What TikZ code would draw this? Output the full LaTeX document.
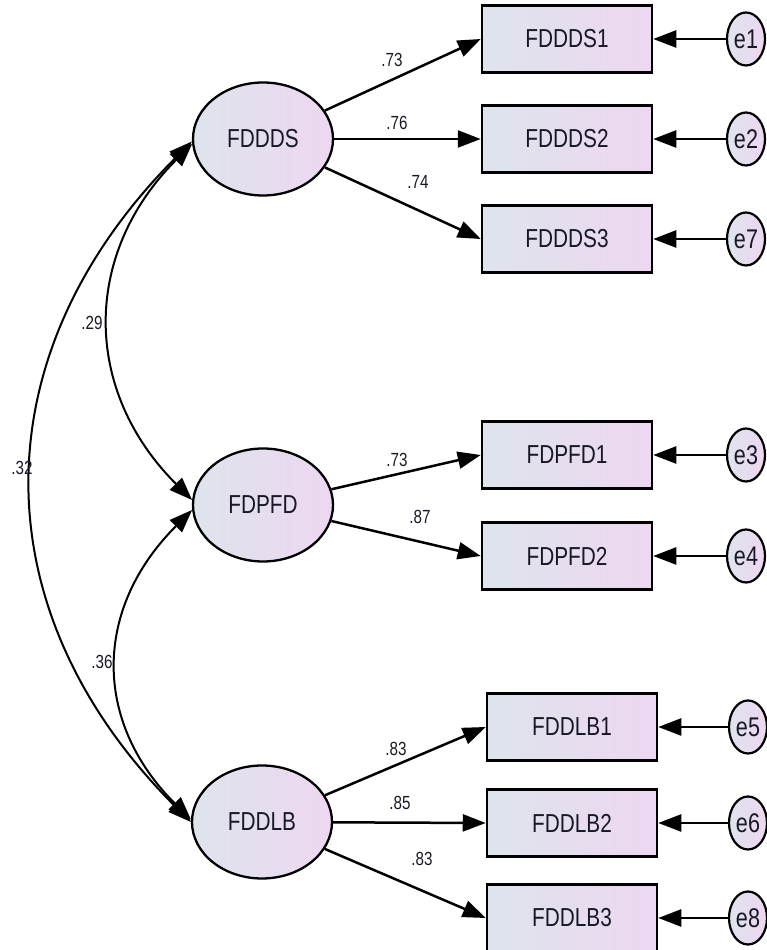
\documentclass[tikz,border=0pt]{standalone}
\usepackage{fontspec}
\setmainfont{Liberation Sans}[FakeStretch=0.8]
\usetikzlibrary{arrows.meta,shapes.geometric}
\definecolor{shadeL}{RGB}{222,228,236}
\definecolor{shadeR}{RGB}{237,215,241}
\definecolor{ink}{RGB}{24,24,40}
\tikzset{
  lat/.style={draw,ellipse,minimum width=140pt,minimum height=113pt,inner sep=0pt,line width=2.3pt,left color=shadeL,right color=shadeR,text=ink,font=\fontsize{26}{28}\selectfont},
  obs/.style={draw,rectangle,minimum width=170pt,minimum height=67pt,inner sep=0pt,line width=2.5pt,left color=shadeL,right color=shadeR,text=ink,font=\fontsize{26}{28}\selectfont},
  err/.style={draw,ellipse,minimum width=38pt,minimum height=53pt,inner sep=0pt,line width=2.2pt,left color=shadeL,right color=shadeR,text=ink,font=\fontsize{27}{29}\selectfont},
  load/.style={-{Triangle[length=23pt,width=17pt]},line width=2.5pt},
  cov/.style={{Triangle[length=23pt,width=17pt]}-{Triangle[length=23pt,width=17pt]},line width=2pt},
  wt/.style={inner sep=1pt,text=ink,font=\fontsize{19}{21}\selectfont},
}
\begin{document}
\begin{tikzpicture}[x=1pt,y=1pt]
  \useasboundingbox (0,0) rectangle (767,950);

  % latent factors
  \node[lat] (FDDDS) at (263,811) {FDDDS};
  \node[lat] (FDPFD) at (263,445) {FDPFD};
  \node[lat] (FDDLB) at (262,128) {FDDLB};

  % FDDDS block
  \node[obs] (FDDDS1) at (567,911) {FDDDS1};
  \node[obs] (FDDDS2) at (567,811) {FDDDS2};
  \node[obs] (FDDDS3) at (567,711) {FDDDS3};
  \node[err] (e1) at (746,911) {e1};
  \node[err] (e2) at (746,811) {e2};
  \node[err] (e7) at (746,711) {e7};

  % FDPFD block
  \node[obs] (FDPFD1) at (567,495) {FDPFD1};
  \node[obs] (FDPFD2) at (567,394) {FDPFD2};
  \node[err] (e3) at (746,495) {e3};
  \node[err] (e4) at (746,394) {e4};

  % FDDLB block
  \node[obs] (FDDLB1) at (572,223) {FDDLB1};
  \node[obs] (FDDLB2) at (572,127) {FDDLB2};
  \node[obs] (FDDLB3) at (572,32)  {FDDLB3};
  \node[err] (e5) at (748,223) {e5};
  \node[err] (e6) at (748,127) {e6};
  \node[err] (e8) at (748,32)  {e8};

  % loadings
  \draw[load] (FDDDS) -- (FDDDS1.west);
  \draw[load] (FDDDS) -- (FDDDS2.west);
  \draw[load] (FDDDS) -- (FDDDS3.west);
  \draw[load] (FDPFD) -- (FDPFD1.west);
  \draw[load] (FDPFD) -- (FDPFD2.west);
  \draw[load] (FDDLB) -- (FDDLB1.west);
  \draw[load] (FDDLB) -- (FDDLB2.west);
  \draw[load] (FDDLB) -- (FDDLB3.west);

  % errors
  \foreach \e/\v in {e1/FDDDS1,e2/FDDDS2,e7/FDDDS3,e3/FDPFD1,e4/FDPFD2,e5/FDDLB1,e6/FDDLB2,e8/FDDLB3}
    \draw[load] (\e) -- (\v);

  % covariances
  \draw[cov] (FDDDS.184) to[out=225,in=135,looseness=1.12] (FDPFD.176);
  \draw[cov] (FDPFD.184) to[out=225,in=135,looseness=1.15] (FDDLB.178);
  \draw[cov] (FDDDS.182) to[out=225,in=135,looseness=1.13] (FDDLB.180);

  % weights
  \node[wt] (w1) at (392,890) {.73};
  \node[wt] (w2) at (397,827) {.76};
  \node[wt] (w3) at (418,768) {.74};
  \node[wt] (w4) at (397,490) {.73};
  \node[wt] (w5) at (420,433) {.87};
  \node[wt] (w6) at (396,201) {.83};
  \node[wt] (w7) at (400,147) {.85};
  \node[wt] (w8) at (422,91)  {.83};
  \node[wt] (c1) at (92,627)  {.29};
  \node[wt] (c2) at (22,482)  {.32};
  \node[wt] (c3) at (102,288) {.36};

\end{tikzpicture}
\end{document}
